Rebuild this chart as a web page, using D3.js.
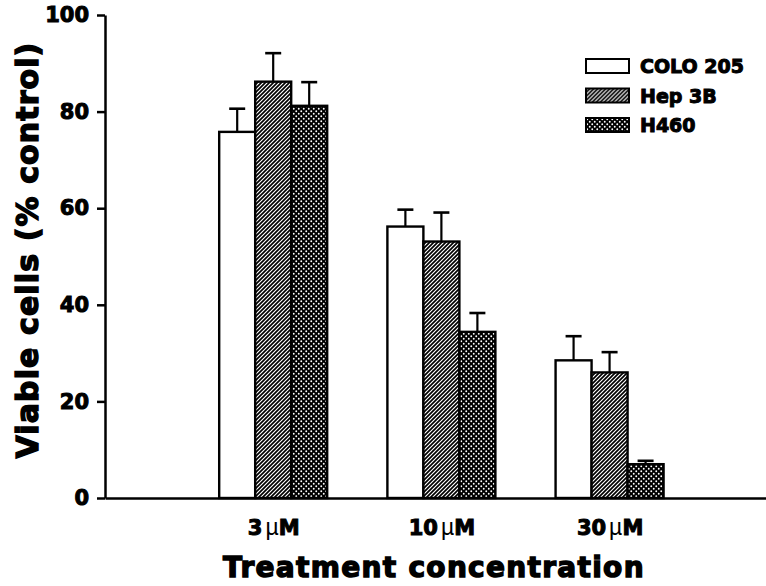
<!DOCTYPE html>
<html>
<head>
<meta charset="utf-8">
<script src="https://cdn.jsdelivr.net/npm/d3@7"></script>
<style>
  html, body { margin: 0; padding: 0; background: #fff; }
  svg { display: block; }
  text { font-family: "DejaVu Sans", sans-serif; font-weight: bold; fill: #000; }
</style>
</head>
<body>
<svg id="chart" width="766" height="586"></svg>
<script>
// values
const concentrations = ['3', '10', '30'];
const series = ['COLO 205', 'Hep 3B', 'H460'];
const coloValues = [75.8, 56.2, 28.5];
const coloErrors = [4.8, 3.5, 5.0];
const hepValues = [86.2, 53.1, 26.0];
const hepErrors = [5.9, 6.0, 4.2];
const h460Values = [81.2, 34.4, 7.0];
const h460Errors = [4.9, 3.9, 0.7];
const yTicks = [0, 20, 40, 60, 80, 100];

const svg = d3.select('#chart');

// fill patterns
const defs = svg.append('defs');
const hatch = defs.append('pattern')
  .attr('id', 'hatch')
  .attr('patternUnits', 'userSpaceOnUse')
  .attr('width', 4).attr('height', 4);
hatch.append('rect').attr('width', 4).attr('height', 4).attr('fill', '#fff');
hatch.append('path')
  .attr('d', 'M-1,1 l2,-2 M0,4 l4,-4 M3,5 l2,-2')
  .attr('stroke', '#000').attr('stroke-width', 1.7);

const dots = defs.append('pattern')
  .attr('id', 'dots')
  .attr('patternUnits', 'userSpaceOnUse')
  .attr('width', 5).attr('height', 5);
dots.append('rect').attr('width', 5).attr('height', 5).attr('fill', '#000');
dots.selectAll('circle')
  .data([[1.25, 1.25], [3.75, 3.75]])
  .enter().append('circle')
  .attr('cx', d => d[0]).attr('cy', d => d[1])
  .attr('r', 0.95).attr('fill', '#fff');

const fills = {'COLO 205': '#fff', 'Hep 3B': 'url(#hatch)', 'H460': 'url(#dots)'};

// scales
const y = d3.scaleLinear().domain([0, 100]).range([498, 15]);
const x = d3.scaleLinear().domain([0, 3.93]).range([105, 766]);
const xs = d3.scaleBand().domain(series).range([-54, 54]);

const table = [];
concentrations.forEach((c, i) => {
  table.push({conc: i + 1, s: 'COLO 205', v: coloValues[i], e: coloErrors[i]});
  table.push({conc: i + 1, s: 'Hep 3B', v: hepValues[i], e: hepErrors[i]});
  table.push({conc: i + 1, s: 'H460', v: h460Values[i], e: h460Errors[i]});
});

// error bars (upper only), drawn first so the bar outline sits on top
const err = svg.append('g').attr('stroke', '#000');
err.selectAll('line.stem')
  .data(table)
  .enter().append('line')
  .attr('class', 'stem')
  .attr('x1', d => x(d.conc) + xs(d.s) + xs.bandwidth() / 2)
  .attr('x2', d => x(d.conc) + xs(d.s) + xs.bandwidth() / 2)
  .attr('y1', d => y(d.v))
  .attr('y2', d => y(d.v + d.e))
  .attr('stroke-width', 2.2);
err.selectAll('line.cap')
  .data(table)
  .enter().append('line')
  .attr('class', 'cap')
  .attr('x1', d => x(d.conc) + xs(d.s) + xs.bandwidth() / 2 - 8)
  .attr('x2', d => x(d.conc) + xs(d.s) + xs.bandwidth() / 2 + 8)
  .attr('y1', d => y(d.v + d.e))
  .attr('y2', d => y(d.v + d.e))
  .attr('stroke-width', 2.6);

// bars
svg.append('g').selectAll('rect')
  .data(table)
  .enter().append('rect')
  .attr('x', d => x(d.conc) + xs(d.s))
  .attr('y', d => y(d.v))
  .attr('width', xs.bandwidth())
  .attr('height', d => y(0) - y(d.v))
  .attr('fill', d => fills[d.s])
  .attr('stroke', '#000')
  .attr('stroke-width', 2.4);

// y axis
const yAxis = svg.append('g')
  .attr('transform', 'translate(' + x(0) + ',0)')
  .call(d3.axisLeft(y).tickValues(yTicks).tickSize(8).tickSizeOuter(0).tickPadding(8));
yAxis.select('.domain').attr('stroke-width', 2.5);
yAxis.selectAll('.tick line').attr('stroke-width', 2.5);
yAxis.selectAll('.tick text')
  .style('font-size', '21px')
  .style('font-family', '"DejaVu Sans", sans-serif')
  .style('font-weight', 'bold')
  .attr('stroke', '#000').attr('stroke-width', 1);

// x axis
const xAxis = svg.append('g')
  .attr('transform', 'translate(0,' + y(0) + ')')
  .call(d3.axisBottom(x).tickValues([1, 2, 3]).tickSize(0).tickSizeOuter(0).tickPadding(22)
    .tickFormat(i => concentrations[i - 1]));
xAxis.select('.domain').attr('stroke-width', 2.5);
xAxis.selectAll('.tick text')
  .style('font-size', '21px')
  .style('font-family', '"DejaVu Sans", sans-serif')
  .style('font-weight', 'bold')
  .each(function (i) {
    const t = d3.select(this);
    t.text(null);
    t.append('tspan').attr('stroke', '#000').attr('stroke-width', 1).text(concentrations[i - 1]);
    t.append('tspan')
      .attr('dx', 3)
      .style('font-weight', 'normal')
      .style('font-family', '"Liberation Sans", sans-serif')
      .style('font-size', '23px')
      .text('\u00b5');
    t.append('tspan').attr('stroke', '#000').attr('stroke-width', 1).text('M');
  });

// axis titles
svg.append('text')
  .attr('transform', 'translate(38,250) rotate(-90)')
  .attr('text-anchor', 'middle')
  .attr('stroke', '#000').attr('stroke-width', 1.4)
  .style('font-size', '30px')
  .style('letter-spacing', '1.1px')
  .text('Viable cells (% control)');

svg.append('text')
  .attr('x', 434)
  .attr('y', 577)
  .attr('text-anchor', 'middle')
  .attr('stroke', '#000').attr('stroke-width', 1.4)
  .style('font-size', '28px')
  .style('letter-spacing', '1.3px')
  .text('Treatment concentration');

// legend
const legend = svg.append('g').attr('transform', 'translate(586,59)');
const item = legend.selectAll('g')
  .data(series)
  .enter().append('g')
  .attr('transform', (d, i) => 'translate(0,' + (i * 29.5) + ')');
item.append('rect')
  .attr('width', 43).attr('height', 14)
  .attr('fill', d => fills[d])
  .attr('stroke', '#000').attr('stroke-width', 2);
item.append('text')
  .attr('x', 54).attr('y', 14)
  .attr('stroke', '#000').attr('stroke-width', 1)
  .style('font-size', '19px')
  .text(d => d);
</script>
</body>
</html>
